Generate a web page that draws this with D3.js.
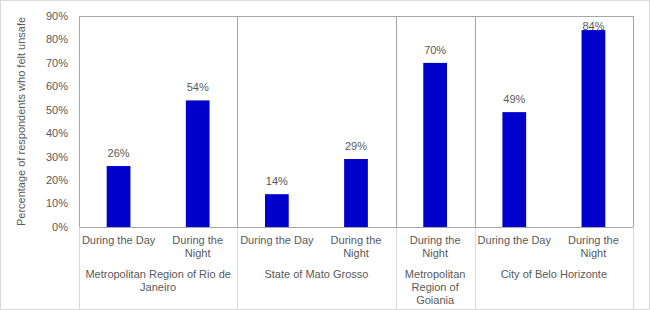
<!DOCTYPE html>
<html>
<head>
<meta charset="utf-8">
<script src="https://cdn.jsdelivr.net/npm/d3@7"></script>
<style>
  body { margin: 0; background: #fff; }
  svg text { font-family: "Liberation Sans", Arial, sans-serif; fill: #595959; }
</style>
</head>
<body>
<svg id="chart" width="650" height="310"></svg>
<script>
(function() {
  // Data
  const categoryLines = [["During the Day"], ["During the", "Night"], ["During the Day"], ["During the", "Night"],
    ["During the", "Night"], ["During the Day"], ["During the", "Night"]];
  const values = [26, 54, 14, 29, 70, 49, 84];
  const groups = [
    { lines: ["Metropolitan Region of Rio de", "Janeiro"], start: 0, count: 2 },
    { lines: ["State of Mato Grosso"], start: 2, count: 2 },
    { lines: ["Metropolitan", "Region of", "Goiania"], start: 4, count: 1 },
    { lines: ["City of Belo Horizonte"], start: 5, count: 2 }
  ];
  const yTicks = [0, 10, 20, 30, 40, 50, 60, 70, 80, 90];

  const svg = d3.select("#chart");
  const W = 650, H = 310;
  const plotLeft = 79, plotRight = 633, plotTop = 16, plotBottom = 227;
  const BAR = "#0000CC", LINE = "#a6a6a6", LIGHT = "#d9d9d9";

  // outer border
  svg.append("rect")
    .attr("x", 0.5).attr("y", 0.5).attr("width", W - 1).attr("height", H - 1)
    .attr("fill", "none").attr("stroke", LIGHT);

  const x = d3.scaleBand()
    .domain(d3.range(values.length))
    .range([plotLeft, plotRight])
    .paddingInner(0.7)
    .paddingOuter(0.35);
  const step = x.step();
  const y = d3.scaleLinear().domain([0, 90]).range([plotBottom, plotTop]);

  // y axis ticks
  svg.append("g").selectAll("text")
    .data(yTicks)
    .join("text")
    .attr("x", 68)
    .attr("y", d => y(d))
    .attr("dy", "0.35em")
    .attr("text-anchor", "end")
    .attr("font-size", 11)
    .text(d => d + "%");

  // y axis title
  svg.append("text")
    .attr("transform", `translate(25,${(plotTop + plotBottom) / 2}) rotate(-90)`)
    .attr("text-anchor", "middle")
    .attr("font-size", 11)
    .text("Percentage of respondents who felt unsafe");

  // frame lines
  const edge = i => Math.round(plotLeft + step * i) + 0.5;
  svg.append("line")
    .attr("x1", plotLeft + 0.5).attr("x2", plotRight + 0.5)
    .attr("y1", plotTop + 0.5).attr("y2", plotTop + 0.5)
    .attr("stroke", LINE);
  svg.append("line")
    .attr("x1", plotLeft + 0.5).attr("x2", plotRight + 0.5)
    .attr("y1", plotBottom + 0.5).attr("y2", plotBottom + 0.5)
    .attr("stroke", LINE);

  const seps = [0].concat(groups.map(g => g.start + g.count));
  // group separators inside the plot
  svg.append("g").selectAll("line")
    .data(seps)
    .join("line")
    .attr("x1", d => edge(d)).attr("x2", d => edge(d))
    .attr("y1", plotTop).attr("y2", plotBottom)
    .attr("stroke", LINE);
  // and down through the label area (lighter)
  svg.append("g").selectAll("line")
    .data(seps)
    .join("line")
    .attr("x1", d => edge(d)).attr("x2", d => edge(d))
    .attr("y1", plotBottom + 1).attr("y2", H - 1)
    .attr("stroke", LIGHT);

  // bars
  svg.append("g").selectAll("rect")
    .data(values)
    .join("rect")
    .attr("x", (d, i) => x(i))
    .attr("width", x.bandwidth())
    .attr("y", d => y(d))
    .attr("height", d => plotBottom - y(d))
    .attr("fill", BAR);

  // value labels (kept inside the plot area, like Excel does near the top)
  svg.append("g").selectAll("text")
    .data(values)
    .join("text")
    .attr("x", (d, i) => x(i) + x.bandwidth() / 2)
    .attr("y", d => Math.max(y(d) - 9, plotTop + 14))
    .attr("text-anchor", "middle")
    .attr("font-size", 11)
    .text(d => d + "%");

  // category labels
  const catG = svg.append("g");
  categoryLines.forEach((lines, i) => {
    const cx = x(i) + x.bandwidth() / 2;
    lines.forEach((t, j) => {
      catG.append("text")
        .attr("x", cx)
        .attr("y", 244 + j * 13)
        .attr("text-anchor", "middle")
        .attr("font-size", 11)
        .text(t);
    });
  });

  // group labels
  const grpG = svg.append("g");
  groups.forEach(g => {
    const cx = plotLeft + step * (g.start + g.count / 2);
    g.lines.forEach((t, j) => {
      grpG.append("text")
        .attr("x", cx)
        .attr("y", 278 + j * 13)
        .attr("text-anchor", "middle")
        .attr("font-size", 11)
        .text(t);
    });
  });
})();
</script>
</body>
</html>
